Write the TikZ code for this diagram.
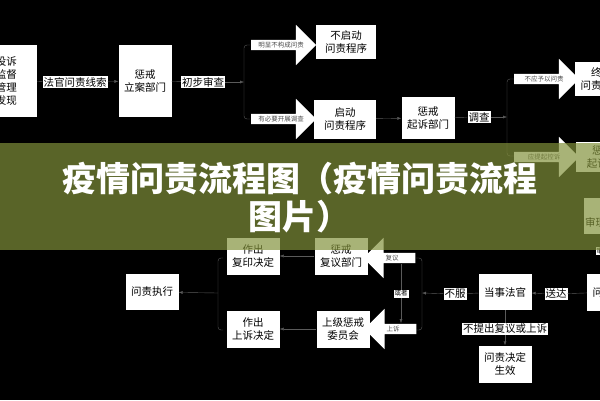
\documentclass[tikz,border=0pt]{standalone}
\usepackage{fontspec}
\newfontfamily\cjk{Noto Sans CJK SC}
\usetikzlibrary{positioning, arrows.meta, shapes.arrows}
\definecolor{bannerolive}{RGB}{130,145,58}
\definecolor{linegray}{RGB}{90,90,90}

\begin{document}
\begin{tikzpicture}
    [
        x=1pt, y=-1pt,
        box/.style={fill=white, minimum width=53pt, minimum height=37pt, inner sep=1pt, align=center, font=\cjk\fontsize{10.5}{13}\selectfont},
        tag/.style={fill=white, inner sep=1pt, font=\cjk\fontsize{10.5}{12}\selectfont},
        flow/.style={draw=linegray, thin, -{Latex[length=4pt, width=3pt]}},
        fork/.style={draw=linegray, thin, rounded corners=3pt},
        big_arrow/.style={single arrow, fill=white, single arrow head extend=15pt, single arrow head indent=0pt, minimum height=#1, inner sep=2pt, text=black!70, font=\cjk\fontsize{6.5}{7}\selectfont},
        big_arrow/.default=65pt,
    ]
        \fill[black] (0,0) rectangle (600,400) ;
        \useasboundingbox (0,0) rectangle (600,400) ;
        % upper row
        \node[box, minimum width=82pt, minimum height=72pt] (clue) at (-4,81) {举报投诉\\日常监督\\巡视管理\\其他发现} ;
        \node[box, minimum height=72pt] (file) at (145,81) {惩戒\\立案部门} ;
        \node[tag] (clueTag) at (75,82) {法官问责线索} ;
        \node[tag] (check) at (203,82) {初步审查} ;
        \draw[linegray, thin] (clue) -- (clueTag) ;
        \draw[flow] (clueTag) -- (file) ;
        \draw[linegray, thin] (file) -- (check) ;
        \coordinate (forkA) at (244,82) ;
        \draw[flow] (check) -- (forkA) ;
        \draw[fork] (250,45) -- (244,45) -- (244,119) -- (250,119) ;
        \node[big_arrow] (noCase) at (281,45) {明显不构成问责} ;
        \node[big_arrow] (needCase) at (281,119) {有必要开展调查} ;
        \node[box, minimum width=60pt, minimum height=34pt] (stop) at (346,42) {不启动\\问责程序} ;
        \node[box, minimum width=62pt, minimum height=39pt] (start) at (345,119) {启动\\问责程序} ;
        \node[box, minimum height=42pt] (prosecute) at (428,118) {惩戒\\起诉部门} ;
        \draw[flow] (start) -- (prosecute) ;
        \node[tag] (probe) at (479,117) {调查} ;
        \draw[linegray, thin] (prosecute) -- (probe) ;
        \coordinate (forkB) at (507,117) ;
        \draw[flow] (probe) -- (forkB) ;
        \draw[fork] (514,79) -- (507,79) -- (507,156) -- (514,156) ;
        \node[big_arrow] (noBlame) at (544,79) {不应予以问责} ;
        \node[big_arrow] (charge) at (544,157) {应提起控诉} ;
        \node[box, minimum height=34pt, anchor=west] (end) at (575,79) {终止\\问责程序} ;
        \node[box, minimum height=30pt, anchor=west] (indict) at (576,157) {惩戒\\起诉书} ;
        \node[box, minimum height=36pt, anchor=west] (trial) at (584,216) {惩戒\\审理委员会} ;
        \node[tag, font=\cjk\fontsize{6.5}{7}\selectfont] (trialTag) at (603,251) {审理} ;
        % lower row
        \node[box, anchor=west] (decision) at (587,292) {问责决定} ;
        \node[box, minimum height=36pt] (judge) at (505,292) {当事法官} ;
        \node[tag] (deliver) at (556,294) {送达} ;
        \draw[linegray, thin] (decision) -- (deliver) ;
        \draw[flow] (deliver) -- (judge) ;
        \node[box] (valid) at (505,364) {问责决定\\生效} ;
        \node[tag] (noAppeal) at (505,329) {不提出复议或上诉} ;
        \draw[linegray, thin] (judge) -- (noAppeal) ;
        \draw[flow] (noAppeal) -- (valid) ;
        \node[tag] (refuse) at (455,294) {不服} ;
        \draw[linegray, thin] (judge) -- (refuse) ;
        \coordinate (forkC) at (422,293) ;
        \draw[flow] (refuse) -- (forkC) ;
        \draw[fork] (416,258) -- (422,258) -- (422,330) -- (416,330) ;
        \node[big_arrow=52pt, shape border rotate=180] (review) at (392,258) {复议} ;
        \node[big_arrow=52pt, shape border rotate=180] (appeal) at (393,329) {上诉} ;
        \node[box] (reviewDept) at (341,256) {惩戒\\复议部门} ;
        \node[box] (upper) at (343,329) {上级惩戒\\委员会} ;
        \coordinate (orTop) at (401,264) ;
        \coordinate (orEnd) at (401,323) ;
        \draw[flow] (orTop) -- (orEnd) node[midway, tag, font=\cjk\fontsize{6.5}{7}\selectfont] {或者} ;
        \node[box] (reDecide) at (253,256) {作出\\复印决定} ;
        \node[box] (upDecide) at (253,329) {作出\\上诉决定} ;
        \draw[flow] (reviewDept) -- (reDecide) ;
        \draw[flow] (upper) -- (upDecide) ;
        \draw[fork] (223,258) -- (218,258) -- (218,330) -- (223,330) ;
        \node[box, minimum height=36pt] (execute) at (152,292) {问责执行} ;
        \coordinate (forkD) at (218,293) ;
        \draw[flow] (forkD) -- (execute) ;
        % banner
        \fill[bannerolive, opacity=0.69] (0,143) rectangle (600,250) ;
        \node[text=white, align=center, font=\cjk\bfseries\fontsize{34}{38}\selectfont] (title) at (300,198) {疫情问责流程图（疫情问责流程\\图片）} ;
    \end{tikzpicture}
\end{document}
